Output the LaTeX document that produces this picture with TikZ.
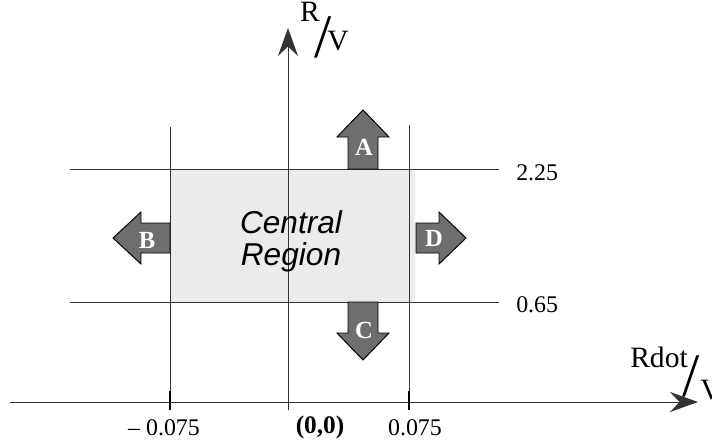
\documentclass[tikz,border=0pt]{standalone}
\usepackage{fontspec}
\setmainfont{Liberation Serif}
\setsansfont{Liberation Sans}
\usetikzlibrary{arrows.meta}

\begin{document}
\begin{tikzpicture}[x=0.025cm, y=-0.025cm,
  region/.style={fill=black!8},
  limit/.style={draw=black!80, line width=0.6pt},
  axis/.style={draw=black!80, line width=0.7pt,
               -{Stealth[length=7mm, width=5mm, inset=2.4mm]}},
  tickmark/.style={draw=black, line width=2pt},
  blockarr/.style={fill=black!57, draw=black, line width=0.7pt},
  arrlbl/.style={text=white, inner sep=0pt, font=\fontsize{17.5}{20}\selectfont\bfseries},
  numlbl/.style={inner sep=0pt, font=\fontsize{17}{20}\selectfont},
  axislbl/.style={inner sep=0pt, font=\fontsize{21}{24}\selectfont},
  slash/.style={inner sep=0pt, font=\fontsize{44}{46}\selectfont},
]
\useasboundingbox (0,0) rectangle (712,442);

%% CENTRAL REGION
\fill[region] (170,169) rectangle (415,302);

%% LIMIT LINES
\coordinate (hi-l) at (70,169);   \coordinate (hi-r) at (499,169);
\coordinate (lo-l) at (70,302);   \coordinate (lo-r) at (499,302);
\coordinate (neg-t) at (170,127); \coordinate (neg-b) at (170,402);
\coordinate (pos-t) at (409,125); \coordinate (pos-b) at (409,402);
\draw[limit] (hi-l) -- (hi-r);
\draw[limit] (lo-l) -- (lo-r);
\draw[limit] (neg-t) -- (neg-b);
\draw[limit] (pos-t) -- (pos-b);

%% AXES
\coordinate (xstart) at (10,402);  \coordinate (xend) at (698,402);
\coordinate (ystart) at (288,410); \coordinate (yend) at (288,28);
\draw[axis] (xstart) -- (xend);
\draw[axis] (ystart) -- (yend);
\draw[tickmark] (170,391) -- (170,410);
\draw[tickmark] (409,391) -- (409,410);

%% BLOCK ARROWS
\draw[blockarr] (348,169) -- (348,137) -- (337,137) -- (363,110)
  -- (389,137) -- (378,137) -- (378,169) -- cycle;
\draw[blockarr] (170,223) -- (141,223) -- (141,212) -- (113,238)
  -- (141,264) -- (141,253) -- (170,253) -- cycle;
\draw[blockarr] (348,302) -- (348,333) -- (337,333) -- (363,360)
  -- (389,333) -- (378,333) -- (378,302) -- cycle;
\draw[blockarr] (416,223) -- (439,223) -- (439,212) -- (466,238)
  -- (439,264) -- (439,253) -- (416,253) -- cycle;
\node[arrlbl] (A) at (364,147) {A};
\node[arrlbl] (B) at (147,240) {B};
\node[arrlbl] (C) at (364,330) {C};
\node[arrlbl] (D) at (434,238) {D};

%% LABELS
\node[font=\sffamily\itshape\fontsize{22.5}{22.7}\selectfont, align=center,
      inner sep=0pt] (central) at (291,241) {Central\\Region};
\node[numlbl, anchor=base west] (hi) at (516,180) {2.25};
\node[numlbl, anchor=base west] (lo) at (516,312) {0.65};
\node[numlbl, anchor=base] (xneg) at (164,435) {\textendash\ 0.075};
\node[numlbl, anchor=base, font=\fontsize{18}{20}\selectfont\bfseries]
  (orig) at (320,433) {(0,0)};
\node[numlbl, anchor=base] (xpos) at (415,435) {0.075};

%% AXIS NAMES
\node[axislbl] (r) at (310,12) {R};
\node[slash] (rslash) at (323,37) {/};
\node[axislbl] (rv) at (338,41) {V};
\node[axislbl, anchor=base east] (rdot) at (688,367) {Rdot};
\node[slash] (rdslash) at (691,376) {/};
\node[axislbl, anchor=west] (rdv) at (700,390) {V};
\end{tikzpicture}
\end{document}
